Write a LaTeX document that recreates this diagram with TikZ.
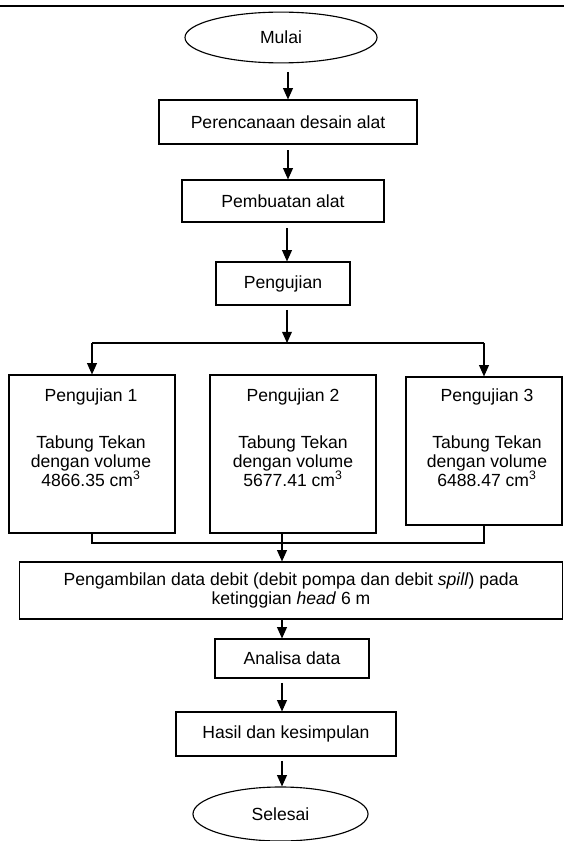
\documentclass[tikz,border=0pt]{standalone}
\usepackage{fontspec}
\setmainfont{Liberation Sans}
\usetikzlibrary{arrows.meta,shapes.geometric}

\begin{document}
\begin{tikzpicture}[x=0.025cm, y=-0.025cm, font=\fontsize{12.5}{13.5}\selectfont,
  box/.style={shape=rectangle, draw=black, thick, inner sep=0pt},
  oval/.style={shape=ellipse, draw=black, thick, inner sep=0pt},
  arr/.style={-{Triangle[width=7pt,length=8pt]}, thick, shorten <=3pt},
  link/.style={-, thick},
  txt/.style={anchor=north, align=center, inner sep=0pt}]
\useasboundingbox (0,0) rectangle (564,841);
\draw[line width=1.4pt] (0,6) -- (564,6);
\node[oval, minimum width=4.8cm, minimum height=1.27cm] (mulai) at (281,37.5) {Mulai};
\node[box, minimum width=6.45cm, minimum height=1.1cm] (rencana) at (288,122) {Perencanaan desain alat};
\node[box, minimum width=5.05cm, minimum height=1.05cm] (buat) at (283,201) {Pembuatan alat};
\node[box, minimum width=3.35cm, minimum height=1.075cm] (uji) at (283,283.5) {Pengujian};
\coordinate (split) at (287,343);
% tiga pengujian
\node[box, minimum width=4.15cm, minimum height=3.95cm] (p1) at (92,454) {};
\node[box, minimum width=4.15cm, minimum height=3.95cm] (p2) at (293,454) {};
\node[box, minimum width=3.9cm, minimum height=3.7cm] (p3) at (484,451) {};
\node[txt] (t1) at (91,388) {Pengujian 1\\[20pt]Tabung Tekan\\dengan volume\\4866.35 cm\textsuperscript{3}};
\node[txt] (t2) at (293,388) {Pengujian 2\\[20pt]Tabung Tekan\\dengan volume\\5677.41 cm\textsuperscript{3}};
\node[txt] (t3) at (487,388) {Pengujian 3\\[20pt]Tabung Tekan\\dengan volume\\6488.47 cm\textsuperscript{3}};
\coordinate (join) at (282,543);
\node[box, minimum width=13.55cm, minimum height=1.425cm, align=center] (ambil) at (291,590.5) {Pengambilan data debit (debit pompa dan debit \textit{spill}) pada\\ketinggian \textit{head} 6 m};
\node[box, minimum width=3.85cm, minimum height=0.975cm] (analisa) at (292,658.5) {Analisa data};
\node[box, minimum width=5.5cm, minimum height=1.1cm] (hasil) at (286,734) {Hasil dan kesimpulan};
\node[oval, minimum width=4.375cm, minimum height=1.35cm] (selesai) at (280.5,814) {Selesai};
% alur
\draw[arr, shorten <=6pt] (rencana.north |- mulai.south) -- (rencana.north);
\draw[arr, shorten <=4pt] (rencana.south) -- (rencana.south |- buat.north);
\draw[arr, shorten <=4pt] (split |- buat.south) -- (split |- uji.north);
\draw[arr] (split |- uji.south) -- (split);
\draw[link] (p1.north |- split) -- (p3.north |- split);
\draw[arr, shorten <=0pt] (p1.north |- split) -- (p1.north);
\draw[arr, shorten <=0pt] (p3.north |- split) -- (p3.north);
\draw[link] (p1.south) -- (p1.south |- join) -- (p3.south |- join) -- (p3.south);
\draw[link] (join |- p2.south) -- (join);
\draw[arr, shorten <=0pt] (join) -- (join |- ambil.north);
\draw[arr, shorten <=0pt] (join |- ambil.south) -- (join |- analisa.north);
\draw[arr] (join |- analisa.south) -- (join |- hasil.north);
\draw[arr] (join |- hasil.south) -- (join |- selesai.north);
\end{tikzpicture}
\end{document}
